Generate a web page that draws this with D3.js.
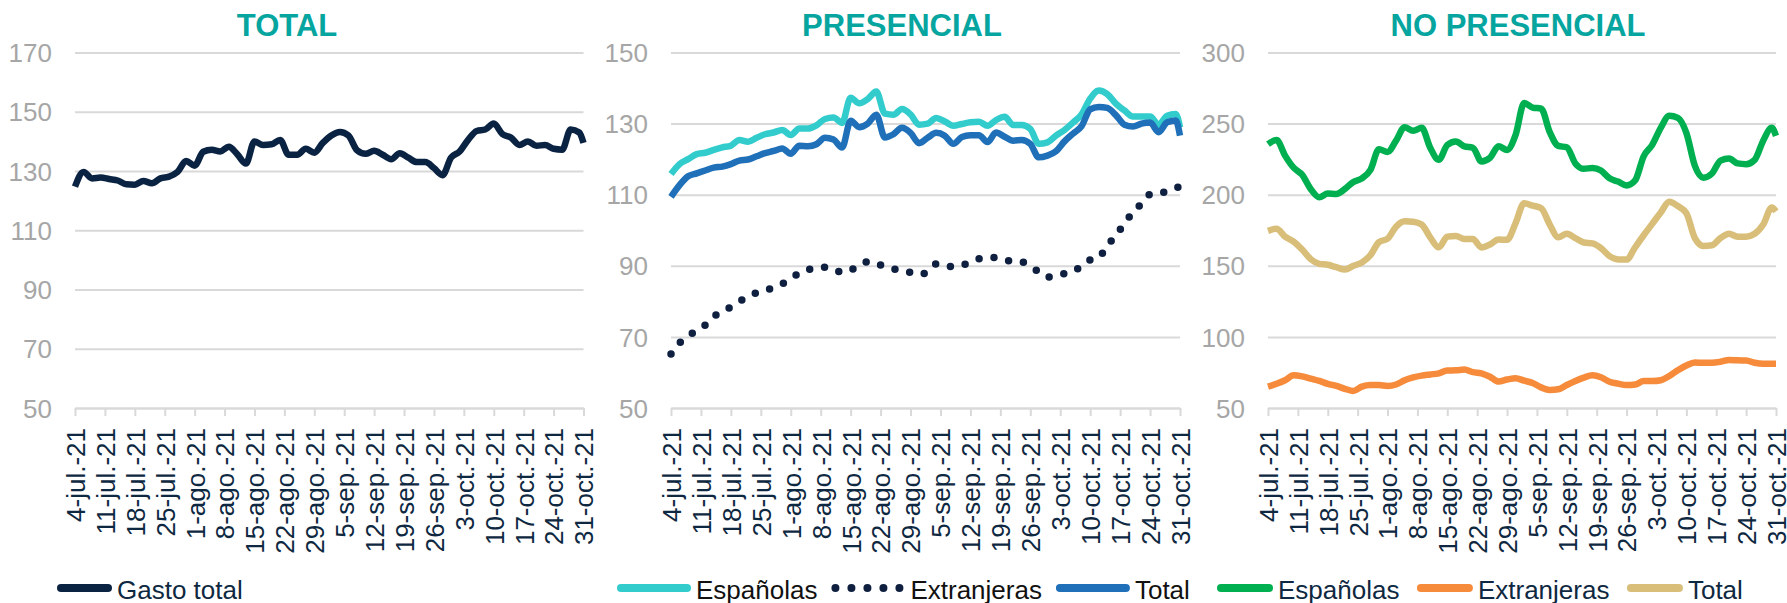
<!DOCTYPE html>
<html>
<head>
<meta charset="utf-8">
<script src="https://cdn.jsdelivr.net/npm/d3@7"></script>
<style>
  body { margin: 0; background: #fff; }
  svg { display: block; }
</style>
</head>
<body>
<svg id="chart" width="1787" height="603"></svg>
<script>
// days after 4-jul-21 at which the series were read (every 2 days, last day 31-oct)
var startDate = new Date(2021, 6, 4);
var endDate = new Date(2021, 9, 31);
var dayIndex = d3.range(0, 119, 2).concat([119]);

var tickLabels = ["4-jul.-21", "11-jul.-21", "18-jul.-21", "25-jul.-21", "1-ago.-21", "8-ago.-21",
  "15-ago.-21", "22-ago.-21", "29-ago.-21", "5-sep.-21", "12-sep.-21", "19-sep.-21",
  "26-sep.-21", "3-oct.-21", "10-oct.-21", "17-oct.-21", "24-oct.-21", "31-oct.-21"];

var gastoTotal = [124.7, 129.7, 127.5, 127.8, 127.3, 126.8, 125.5, 125.4, 126.6, 125.9,
  127.5, 128.1, 129.7, 133.4, 131.8, 136.5, 137.2, 136.6, 138.2, 135.6,
  132.5, 140, 138.8, 139, 140.5, 135.5, 135.5, 137.5, 136.2, 139.5,
  142, 143.2, 142, 137, 135.8, 136.8, 135.5, 134, 136, 134.5,
  133, 133, 131, 128.6, 134.5, 136.6, 140.5, 143.5, 144, 146,
  142.5, 141.3, 138.8, 140, 138.5, 138.8, 137.5, 137.2, 144, 143, 139.5];

var presEspanolas = [115.8, 118.6, 120, 121.4, 121.8, 122.6, 123.3, 123.8, 125.4, 124.9,
  126, 127, 127.5, 128.2, 126.8, 128.6, 128.6, 129.5, 131.3, 131.7,
  130.2, 137.3, 135.7, 136.9, 139, 132.8, 132.5, 134.1, 132.6, 129.7,
  130, 131.6, 130.6, 129.4, 129.9, 130.4, 130.5, 129.4, 131, 131.9,
  129.6, 129.6, 128.5, 124.3, 124.7, 126.6, 128.2, 130.3, 132.6, 137,
  139.3, 138.3, 135.6, 133.7, 132, 132, 132, 129.7, 132.2, 132.7, 128.9];

var presExtranjeras = [65.2, 68.3, 70.3, 71.8, 73.3, 75.7, 77.2, 78.4, 80, 81.3,
  82.4, 83.1, 83.8, 84.9, 86.3, 88, 88.9, 89.4, 89.6, 89.1,
  88.1, 88.9, 89.8, 91.2, 90.6, 89.8, 89.1, 88.6, 88.1, 87.5,
  88.3, 90.5, 90, 89.8, 90.2, 91, 92, 92.4, 92.3, 91.6,
  91.3, 91.1, 89.8, 88.3, 86.8, 87.2, 87.8, 88.4, 90, 91.7,
  92.3, 95.8, 98.4, 102, 105, 107.5, 110.1, 110.3, 111, 112, 112.2];

var presTotal = [109.4, 112.7, 115.2, 116, 116.8, 117.6, 117.9, 118.6, 119.6, 119.9,
  120.8, 121.7, 122.3, 123, 121.5, 123.8, 123.6, 124.2, 126, 125.5,
  123.3, 130.8, 129, 130, 132.5, 126.1, 127, 128.8, 127.4, 124.5,
  126, 127.4, 126.6, 124.3, 126.2, 126.7, 126.7, 124.8, 127.5, 126.3,
  125.2, 125.4, 124.3, 120.5, 121, 122.2, 125, 127.2, 129.3, 134,
  134.7, 134.4, 132.4, 129.7, 129.2, 130, 130.3, 127.6, 130.4, 130.9, 126.6];

var noPresEspanolas = [235.6, 238.5, 227.5, 219, 214, 204, 198.2, 200.8, 200.5, 204,
  209, 211.5, 217.5, 232, 230, 238, 247.5, 245, 247, 233,
  224.5, 235, 237.5, 234, 233, 223.4, 226, 234, 231.5, 242,
  264.5, 261.3, 260.5, 244, 234.3, 233.3, 222, 218.2, 218.8, 217,
  211.5, 209.2, 206.5, 210, 227, 235, 247, 255.5, 254, 243.5,
  220.3, 212, 214.9, 224, 225.5, 222, 221.5, 224.5, 238, 247, 241.4];

var noPresExtranjeras = [65, 67, 69.5, 73, 72.2, 70.6, 69, 67, 65.5, 63.5,
  62, 65, 66.1, 66.1, 65.5, 66.5, 69.5, 71.5, 72.8, 73.6,
  74.4, 76.4, 76.5, 77, 75.2, 74.4, 72, 68.6, 70, 71,
  69.2, 67.6, 64.5, 62.7, 63.2, 66.2, 69, 71.4, 73, 71.6,
  68.5, 67.1, 66.1, 66.5, 68.9, 68.9, 69.5, 72.5, 76.5, 79.9,
  82, 81.8, 81.8, 82.5, 83.8, 83.5, 83.4, 81.8, 81.1, 81.1, 81.1];

var noPresTotal = [174.6, 176, 170.5, 167, 161.5, 154.7, 151.4, 150.7, 149, 147.4,
  150, 152.4, 157.5, 166.7, 169, 177.5, 181.3, 181, 179, 170,
  163, 170.5, 171, 168.8, 168.8, 162.9, 165, 168.5, 168.3, 180,
  194, 192.3, 190.5, 179, 170, 172.5, 169.5, 166.4, 165.8, 162.5,
  156.8, 154.5, 154.4, 163, 171.5, 179.5, 187.5, 195, 192, 187,
  169.5, 164, 164.5, 169.5, 172.5, 170.5, 170.5, 172.5, 179, 191, 188.2];

var totalTicks = [50, 70, 90, 110, 130, 150, 170];
var presTicks = [50, 70, 90, 110, 130, 150];
var noPresTicks = [50, 100, 150, 200, 250, 300];

var font = '"Liberation Sans", Arial, sans-serif';
var navy = "#0E2841";
var plotTop = 52.5, plotBottom = 408;

var panels = [
  { title: "TOTAL", titleX: 287, left: 75, right: 583.5, ticks: totalTicks,
    series: [
      { name: "Gasto total", values: gastoTotal, color: "#0B2342", width: 6.5 }
    ],
    legend: { x: 57, sym: 54, gap: 15, color: navy } },
  { title: "PRESENCIAL", titleX: 902, left: 671, right: 1180, ticks: presTicks,
    series: [
      { name: "Españolas", values: presEspanolas, color: "#33CCCC", width: 6.5 },
      { name: "Extranjeras", values: presExtranjeras, color: "#0E1F40", width: 7.5, dotted: true },
      { name: "Total", values: presTotal, color: "#1F70B8", width: 6.5 }
    ],
    legend: { x: 617, sym: 73, gap: 14, color: "#111" } },
  { title: "NO PRESENCIAL", titleX: 1518, left: 1268, right: 1776, ticks: noPresTicks,
    series: [
      { name: "Españolas", values: noPresEspanolas, color: "#00B050", width: 6.5 },
      { name: "Extranjeras", values: noPresExtranjeras, color: "#F68B3B", width: 6.5 },
      { name: "Total", values: noPresTotal, color: "#D8BE78", width: 6.5 }
    ],
    legend: { x: 1217, sym: 55, gap: 17.5, color: navy } }
];

var svg = d3.select("#chart");
svg.append("rect").attr("width", 1787).attr("height", 603).attr("fill", "#fff");

var tickDates = tickLabels.map(function(l, i) { return d3.timeDay.offset(startDate, i * 7); });

panels.forEach(function(p) {
  var x = d3.scaleTime().domain([startDate, endDate]).range([p.left, p.right]);
  var y = d3.scaleLinear().domain(d3.extent(p.ticks)).range([plotBottom, plotTop]);
  var g = svg.append("g");

  g.append("text")
    .attr("x", p.titleX).attr("y", 36)
    .attr("text-anchor", "middle")
    .attr("font-family", font).attr("font-size", 31).attr("font-weight", "bold")
    .attr("fill", "#06A5A0")
    .text(p.title);

  // grid + y labels
  g.append("g")
    .attr("transform", "translate(" + p.left + ",0)")
    .call(d3.axisLeft(y).tickValues(p.ticks).tickSize(-(p.right - p.left)).tickPadding(23))
    .call(function(a) { a.select(".domain").remove(); })
    .call(function(a) {
      a.selectAll(".tick line").attr("stroke", "#D9D9D9").attr("stroke-width", 2);
      a.selectAll(".tick text")
        .attr("fill", "#A6A6A6").attr("font-size", 26).attr("font-family", font).attr("dy", "0.35em");
    });

  // x axis
  g.append("g")
    .attr("transform", "translate(0," + plotBottom + ")")
    .call(d3.axisBottom(x).tickValues(tickDates).tickSize(8).tickSizeOuter(0)
      .tickFormat(function(d, i) { return tickLabels[i]; }))
    .call(function(a) {
      a.select(".domain").attr("stroke", "#D9D9D9").attr("stroke-width", 2);
      a.selectAll(".tick line").attr("stroke", "#D9D9D9").attr("stroke-width", 2);
      a.selectAll(".tick text")
        .attr("fill", navy).attr("font-size", 26).attr("font-family", font)
        .attr("transform", "rotate(-90)")
        .attr("text-anchor", "end")
        .attr("x", -20).attr("y", 0).attr("dy", "0.36em");
    });

  var line = d3.line()
    .curve(d3.curveMonotoneX)
    .x(function(v, i) { return x(d3.timeDay.offset(startDate, dayIndex[i])); })
    .y(function(v) { return y(v); });

  p.series.forEach(function(s) {
    var path = g.append("path")
      .datum(s.values)
      .attr("d", line)
      .attr("fill", "none")
      .attr("stroke", s.color)
      .attr("stroke-width", s.width)
      .attr("stroke-linejoin", "round");
    if (s.dotted) path.attr("stroke-dasharray", "0 15").attr("stroke-linecap", "round");
  });

  // legend
  var lx = p.legend.x;
  p.series.forEach(function(s) {
    var sym = g.append("line")
      .attr("x1", lx + 4).attr("x2", lx + p.legend.sym - 3)
      .attr("y1", 588).attr("y2", 588)
      .attr("stroke", s.color).attr("stroke-width", 8).attr("stroke-linecap", "round");
    if (s.dotted) sym.attr("stroke-dasharray", "0 16");
    var t = g.append("text")
      .attr("x", lx + p.legend.sym + 6).attr("y", 599)
      .attr("font-family", font).attr("font-size", 26)
      .attr("fill", p.legend.color)
      .text(s.name);
    lx = lx + p.legend.sym + 6 + t.node().getComputedTextLength() + p.legend.gap;
  });
});
</script>
</body>
</html>
